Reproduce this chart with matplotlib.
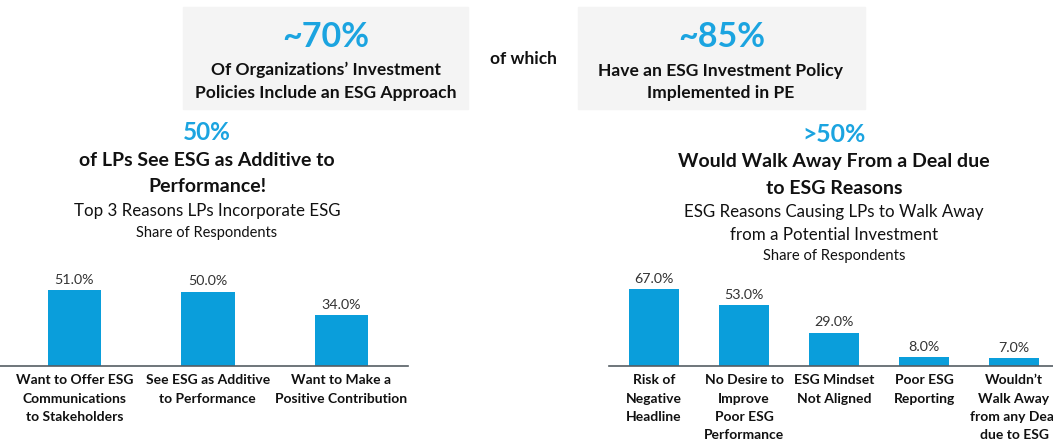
import matplotlib.pyplot as plt
from matplotlib.patches import Rectangle

plt.rcParams['font.family'] = ['Lato', 'DejaVu Sans']

# data
left_cats = ["Want to Offer ESG\nCommunications\nto Stakeholders",
             "See ESG as Additive\nto Performance",
             "Want to Make a\nPositive Contribution"]
left_vals = [51.0, 50.0, 34.0]

right_cats = ["Risk of\nNegative\nHeadline",
              "No Desire to\nImprove\nPoor ESG\nPerformance",
              "ESG Mindset\nNot Aligned",
              "Poor ESG\nReporting",
              "Wouldn\u2019t\nWalk Away\nfrom any Deal\ndue to ESG"]
right_vals = [67.0, 53.0, 29.0, 8.0, 7.0]

BAR = '#0a9edb'
HEAD = '#1ba4e0'
TXT = '#111111'
W, H = 1053, 441

fig = plt.figure(figsize=(W / 100, H / 100), dpi=100)


def fx(px):
    return px / W


def fy(py):
    return 1 - py / H


def txt(x, y, s, size, bold=False, color=TXT):
    fig.text(fx(x), fy(y), s, ha='center', va='center', fontsize=size,
             fontweight='bold' if bold else 'normal', color=color)


# top boxes
for x0, x1 in [(183, 468), (578, 865)]:
    fig.patches.append(Rectangle((fx(x0), fy(109)), fx(x1 - x0), (109 - 7) / H,
                                 transform=fig.transFigure, color='#f4f4f4', zorder=0))

txt(326, 37, "~70%", 24.5, True, HEAD)
txt(326, 70, "Of Organizations\u2019 Investment", 12.6, True)
txt(326, 93, "Policies Include an ESG Approach", 12.6, True)
txt(523, 59, "of which", 12.5, True)
txt(722, 37, "~85%", 24.5, True, HEAD)
txt(721, 71, "Have an ESG Investment Policy", 12.6, True)
txt(721, 93, "Implemented in PE", 12.6, True)

# left headline
txt(207, 132, "50%", 17.5, True, HEAD)
txt(207, 161, "of LPs See ESG as Additive to", 14, True)
txt(207, 187, "Performance!", 14, True)
txt(207, 211, "Top 3 Reasons LPs Incorporate ESG", 12.2)
txt(207, 233, "Share of Respondents", 10.5)

# right headline
txt(834, 135, ">50%", 17.8, True, HEAD)
txt(834, 162, "Would Walk Away From a Deal due", 14, True)
txt(834, 188, "to ESG Reasons", 14, True)
txt(834, 212, "ESG Reasons Causing LPs to Walk Away", 12.2)
txt(834, 235, "from a Potential Investment", 12.2)
txt(834, 256, "Share of Respondents", 10.6)


def bar_panel(left_px, right_px, base_px, px_per, ymax, cats, vals, xlim, width):
    height_px = px_per * ymax
    ax = fig.add_axes([fx(left_px), fy(base_px), fx(right_px - left_px), height_px / H])
    ax.patch.set_alpha(0)
    xs = range(len(vals))
    bars = ax.bar(xs, vals, width=width, color=BAR)
    ax.bar_label(bars, labels=[f"{v:.1f}%" for v in vals], padding=3,
                 fontsize=10.3, color='#333333')
    ax.set_xlim(*xlim)
    ax.set_ylim(0, ymax)
    for s in ['top', 'right', 'left']:
        ax.spines[s].set_visible(False)
    ax.spines['bottom'].set_color('#555d63')
    ax.spines['bottom'].set_linewidth(1.2)
    ax.set_yticks([])
    ax.set_xticks(list(xs))
    ax.set_xticklabels(cats, fontsize=10, fontweight='bold', color=TXT,
                       linespacing=1.63, va='top')
    ax.tick_params(axis='x', length=0, pad=6)
    return ax


# left: centers 74.5..341.5 px, spacing 133.5
bar_panel(0, 408, 366, 1.49, 70, left_cats, left_vals, (-0.558, 2.5), 0.4)
# right: centers 654..1014 px, spacing 90
bar_panel(609, 1053, 366, 1.15, 80, right_cats, right_vals, (-0.5, 4.433), 0.56)

fig.savefig('out.png', dpi=100)
